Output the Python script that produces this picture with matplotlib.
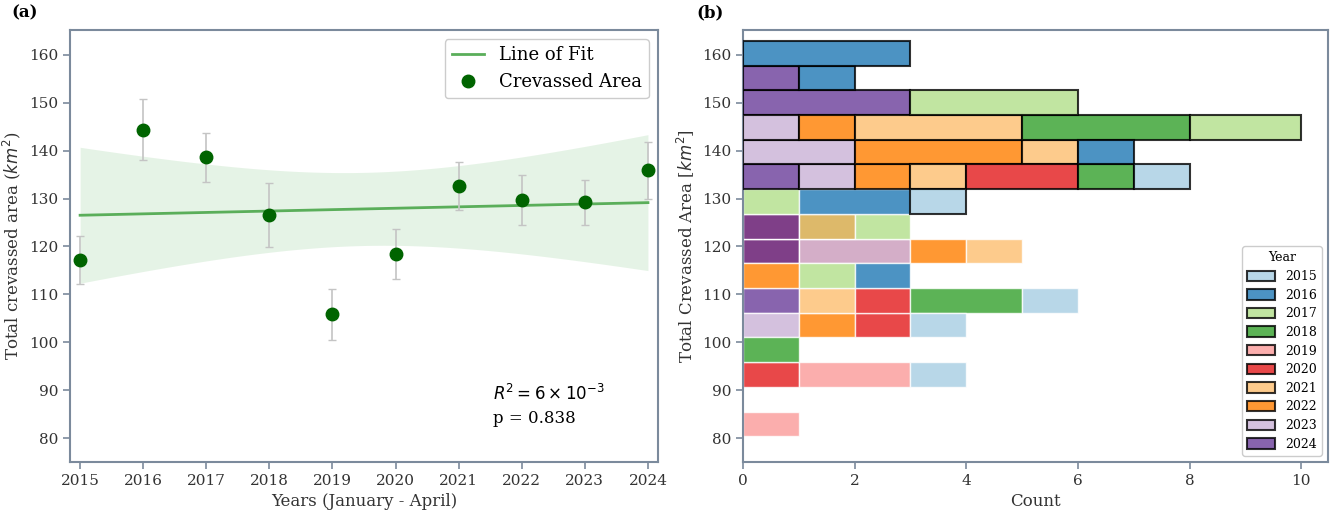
import numpy as np
import matplotlib.pyplot as plt
from matplotlib.patches import Patch

# ---- panel (a): yearly crevassed area ----
years = [2015, 2016, 2017, 2018, 2019, 2020, 2021, 2022, 2023, 2024]
area = [117.2, 144.4, 138.6, 126.5, 105.8, 118.4, 132.6, 129.7, 129.2, 135.9]
area_err = [5.0, 6.3, 5.1, 6.7, 5.4, 5.3, 5.0, 5.2, 4.7, 5.9]

# ---- panel (b): stacked histogram counts per bin (bins from low to high) ----
bin_start = 80.35
bin_width = 5.16
counts = {
    2015: [0, 0, 1, 0, 1, 1, 0, 0, 0, 1, 1, 0, 0, 0, 0, 0],
    2016: [0, 0, 0, 0, 0, 0, 1, 0, 0, 2, 0, 1, 0, 0, 1, 3],
    2017: [0, 0, 0, 0, 0, 0, 1, 0, 1, 1, 0, 0, 2, 3, 0, 0],
    2018: [0, 0, 0, 1, 0, 2, 0, 0, 0, 0, 1, 0, 3, 0, 0, 0],
    2019: [1, 0, 2, 0, 0, 0, 0, 0, 0, 0, 0, 0, 0, 0, 0, 0],
    2020: [0, 0, 1, 0, 1, 1, 0, 0, 0, 0, 2, 0, 0, 0, 0, 0],
    2021: [0, 0, 0, 0, 0, 1, 0, 1, 1, 0, 1, 1, 3, 0, 0, 0],
    2022: [0, 0, 0, 0, 1, 0, 1, 1, 0, 0, 1, 3, 1, 0, 0, 0],
    2023: [0, 0, 0, 0, 1, 0, 0, 2, 0, 0, 1, 2, 1, 0, 0, 0],
    2024: [0, 0, 0, 0, 0, 1, 0, 1, 1, 0, 1, 0, 0, 3, 1, 0],
}

year_colors = {
    2015: '#a6cee3', 2016: '#1f78b4', 2017: '#b2df8a', 2018: '#33a02c',
    2019: '#fb9a99', 2020: '#e31a1c', 2021: '#fdbf6f', 2022: '#ff7f00',
    2023: '#cab2d6', 2024: '#6a3d9a',
}
# segments that look blended where two layers overlap
blend_colors = {(7, 2024): '#7f3f88', (8, 2024): '#7f3f88', (8, 2021): '#ddb96a',
                (7, 2023): '#d4aec8'}
first_black_bin = 10

plt.rcParams['font.family'] = 'DejaVu Serif'
spine_col = '#7b8a9c'
text_col = '#333333'

fig = plt.figure(figsize=(13.31, 5.12), dpi=100)
ax1 = fig.add_axes([0.0526, 0.0977, 0.4418, 0.8438])
ax2 = fig.add_axes([0.5582, 0.0977, 0.4395, 0.8438])

# --- (a) ---
x = np.array(years, dtype=float)
y = np.array(area)
slope, icpt = np.polyfit(x, y, 1)
xs = np.linspace(x.min(), x.max(), 100)
fit = slope * xs + icpt
resid = y - (slope * x + icpt)
s = np.sqrt(np.sum(resid ** 2) / (len(x) - 2))
se = s * np.sqrt(1 / len(x) + (xs - x.mean()) ** 2 / np.sum((x - x.mean()) ** 2))
ax1.fill_between(xs, fit - 2.0 * se, fit + 2.0 * se, color='#4caf50', alpha=0.14, lw=0)
ax1.plot(xs, fit, color='#5aae5a', lw=2, label='Line of Fit')
ax1.errorbar(x, y, yerr=area_err, fmt='none', ecolor='#c4c4c4', capsize=3, lw=1.2)
ax1.plot(x, y, 'o', color='#006400', ms=9, label='Crevassed Area')
ax1.set_xlim(2014.84, 2024.16)
ax1.set_ylim(75, 165.2)
ax1.set_xticks(years)
ax1.set_yticks(range(80, 161, 10))
ax1.set_xlabel('Years (January - April)', fontsize=12, color=text_col)
ax1.set_ylabel('Total crevassed area ($km^2$)', fontsize=12, color=text_col)
ax1.legend(loc='upper right', fontsize=13, handlelength=1.8, framealpha=1)
ax1.text(2021.55, 89.3, r'$R^2 = 6 \times 10^{-3}$', fontsize=12, va='center', family='DejaVu Sans')
ax1.text(2021.55, 84.0, 'p = 0.838', fontsize=12, va='center')
ax1.text(-0.10, 1.03, '(a)', transform=ax1.transAxes, fontsize=12, fontweight='bold')

# --- (b) ---
nbins = len(counts[2015])
bottoms = bin_start + bin_width * np.arange(nbins)
left = np.zeros(nbins)
for yr in sorted(counts, reverse=True):
    c = np.array(counts[yr], dtype=float)
    for i in range(nbins):
        if c[i] == 0:
            continue
        col = blend_colors.get((i, yr), year_colors[yr])
        alpha = 1.0 if (i, yr) in blend_colors else 0.8
        black = i >= first_black_bin or (i == first_black_bin - 1 and yr == 2015)
        ax2.barh(bottoms[i], c[i], left=left[i], height=bin_width, align='edge',
                 color=col, alpha=alpha,
                 edgecolor='black' if black else 'white',
                 linewidth=1.5 if black else 1.0,
                 zorder=3 if black else 2)
    left += c
ax2.set_xlim(0, 10.48)
ax2.set_ylim(75, 165.2)
ax2.set_xticks(range(0, 11, 2))
ax2.set_yticks(range(80, 161, 10))
ax2.set_xlabel('Count', fontsize=12, color=text_col)
ax2.set_ylabel('Total Crevassed Area [$km^2$]', fontsize=12, color=text_col)
handles = [Patch(facecolor=year_colors[yr], alpha=0.8, edgecolor='black', lw=1.5)
           for yr in years]
leg = ax2.legend(handles, [str(yr) for yr in years], title='Year', loc='lower right',
                 fontsize=9, title_fontsize=9, handlelength=2.2, handleheight=0.9,
                 labelspacing=0.45, framealpha=1)
ax2.text(-0.08, 1.03, '(b)', transform=ax2.transAxes, fontsize=12, fontweight='bold')

for ax in (ax1, ax2):
    for sp in ax.spines.values():
        sp.set_color(spine_col)
        sp.set_linewidth(1.5)
    ax.tick_params(colors=spine_col, labelcolor=text_col, labelsize=11,
                   length=5, width=1.2)

fig.savefig('out.png', dpi=100)
